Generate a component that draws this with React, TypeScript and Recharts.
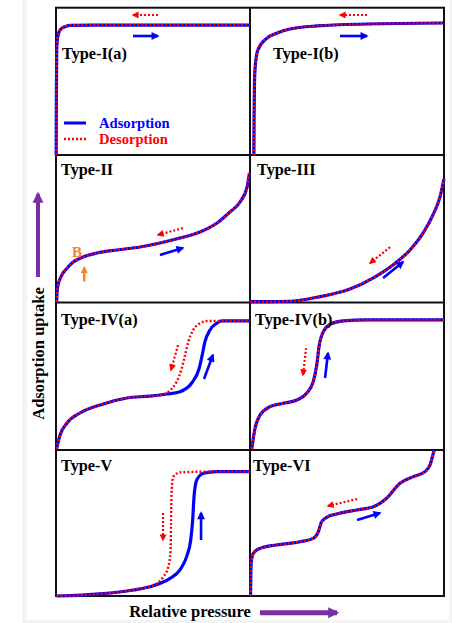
import { Line, LineChart, XAxis, YAxis } from "recharts";

type Pt = [number, number];

// x = relative pressure (0..1 of panel width), y = uptake (0..1 of panel height)
const typeIaCurve: Pt[] = [
  [0.006, 0], [0.007, 0.4], [0.009, 0.72], [0.014, 0.8], [0.026, 0.845],
  [0.051, 0.867], [0.077, 0.876], [0.2, 0.878], [1, 0.878],
];
const typeIbCurve: Pt[] = [
  [0.02, 0], [0.021, 0.25], [0.023, 0.48], [0.027, 0.6], [0.041, 0.71],
  [0.088, 0.79], [0.14, 0.824], [0.206, 0.851], [0.345, 0.872], [0.603, 0.885], [1, 0.892],
];
const typeIICurve: Pt[] = [
  [0.008, 0], [0.013, 0.1], [0.03, 0.17], [0.062, 0.23], [0.092, 0.27], [0.144, 0.306],
  [0.215, 0.333], [0.318, 0.354], [0.436, 0.374], [0.538, 0.401], [0.641, 0.435],
  [0.744, 0.476], [0.831, 0.537], [0.897, 0.612], [0.949, 0.68], [0.985, 0.782], [0.997, 0.878],
];
const typeIIICurve: Pt[] = [
  [0, 0.002], [0.1, 0.002], [0.206, 0.005], [0.344, 0.032], [0.515, 0.088], [0.634, 0.163],
  [0.737, 0.252], [0.825, 0.354], [0.892, 0.469], [0.943, 0.592], [0.979, 0.714], [1, 0.837],
];
const typeIVaAds: Pt[] = [
  [0.008, 0], [0.026, 0.095], [0.062, 0.177], [0.128, 0.245], [0.231, 0.3], [0.369, 0.347],
  [0.487, 0.36], [0.574, 0.374], [0.641, 0.39], [0.701, 0.449], [0.74, 0.551], [0.755, 0.639],
  [0.769, 0.73], [0.795, 0.81], [0.829, 0.855], [0.855, 0.871], [1, 0.871],
];
const typeIVaDes: Pt[] = [
  [0.008, 0], [0.026, 0.095], [0.062, 0.177], [0.128, 0.245], [0.231, 0.3], [0.369, 0.347],
  [0.487, 0.36], [0.56, 0.373], [0.595, 0.405], [0.624, 0.458], [0.65, 0.549], [0.667, 0.639],
  [0.684, 0.73], [0.709, 0.81], [0.744, 0.855], [0.785, 0.871], [1, 0.871],
];
const typeIVbCurve: Pt[] = [
  [0.009, 0], [0.026, 0.141], [0.052, 0.231], [0.103, 0.288], [0.172, 0.311], [0.241, 0.333],
  [0.292, 0.379], [0.326, 0.458], [0.344, 0.571], [0.357, 0.707], [0.378, 0.798],
  [0.412, 0.848], [0.481, 0.871], [0.601, 0.878], [1, 0.878],
];
const typeVAds: Pt[] = [
  [0.009, 0], [0.231, 0.014], [0.402, 0.041], [0.504, 0.07], [0.59, 0.12], [0.641, 0.177],
  [0.675, 0.268], [0.696, 0.381], [0.706, 0.517], [0.713, 0.676], [0.727, 0.789],
  [0.761, 0.835], [0.829, 0.846], [1, 0.846],
];
const typeVDes: Pt[] = [
  [0.009, 0], [0.231, 0.014], [0.402, 0.041], [0.47, 0.059], [0.522, 0.086], [0.556, 0.131],
  [0.581, 0.199], [0.593, 0.313], [0.595, 0.497], [0.598, 0.721], [0.607, 0.812],
  [0.641, 0.841], [0.8, 0.846], [1, 0.846],
];
const typeVICurve: Pt[] = [
  [0.003, 0], [0.004, 0.12], [0.006, 0.222], [0.017, 0.29], [0.052, 0.324], [0.137, 0.347],
  [0.258, 0.369], [0.326, 0.392], [0.352, 0.437], [0.369, 0.505], [0.395, 0.535],
  [0.447, 0.558], [0.55, 0.585], [0.636, 0.607], [0.704, 0.665], [0.773, 0.767],
  [0.842, 0.812], [0.902, 0.846], [0.928, 0.891], [0.945, 0.971], [0.95, 0.993],
];

// direction arrows: [tail, head]
const arrowsIa = { ads: [[0.4, 0.804], [0.528, 0.804]] as Pt[], des: [[0.528, 0.946], [0.4, 0.946]] as Pt[] };
const arrowsIb = { ads: [[0.464, 0.804], [0.603, 0.804]] as Pt[], des: [[0.603, 0.946], [0.464, 0.946]] as Pt[] };
const arrowsII = { ads: [[0.538, 0.32], [0.656, 0.367]] as Pt[], des: [[0.656, 0.503], [0.528, 0.456]] as Pt[] };
const arrowsIII = { ads: [[0.686, 0.163], [0.789, 0.272]] as Pt[], des: [[0.722, 0.374], [0.619, 0.265]] as Pt[] };
const arrowsIVa = { ads: [[0.764, 0.476], [0.81, 0.639]] as Pt[], des: [[0.631, 0.707], [0.595, 0.537]] as Pt[] };
const arrowsIVb = { ads: [[0.387, 0.483], [0.402, 0.653]] as Pt[], des: [[0.289, 0.687], [0.273, 0.503]] as Pt[] };
const arrowsV = { ads: [[0.749, 0.381], [0.749, 0.565]] as Pt[], des: [[0.554, 0.565], [0.554, 0.381]] as Pt[] };
const arrowsVI = { ads: [[0.552, 0.517], [0.67, 0.565]] as Pt[], des: [[0.552, 0.66], [0.402, 0.612]] as Pt[] };
const pointBArrow: Pt[] = [[0.15, 0.14], [0.15, 0.235]];

const BLUE = "#0000ff";
const RED = "#ff0000";
const ORANGE = "#ff7f27";
const PURPLE = "#7b2fa3";
const FONT = '"Liberation Serif", "Times New Roman", serif';

const COL_X = [55, 250];
const COL_W = [195, 194];
const ROW_Y = [7, 155, 302, 449];
const ROW_H = [148, 147, 147, 147];
const PAD = 6;

const panels = [
  { title: "Type-I(a)", col: 0, row: 0, ads: typeIaCurve, des: typeIaCurve, arrows: arrowsIa },
  { title: "Type-I(b)", col: 1, row: 0, ads: typeIbCurve, des: typeIbCurve, arrows: arrowsIb },
  { title: "Type-II", col: 0, row: 1, ads: typeIICurve, des: typeIICurve, arrows: arrowsII },
  { title: "Type-III", col: 1, row: 1, ads: typeIIICurve, des: typeIIICurve, arrows: arrowsIII },
  { title: "Type-IV(a)", col: 0, row: 2, ads: typeIVaAds, des: typeIVaDes, arrows: arrowsIVa },
  { title: "Type-IV(b)", col: 1, row: 2, ads: typeIVbCurve, des: typeIVbCurve, arrows: arrowsIVb },
  { title: "Type-V", col: 0, row: 3, ads: typeVAds, des: typeVDes, arrows: arrowsV },
  { title: "Type-VI", col: 1, row: 3, ads: typeVICurve, des: typeVICurve, arrows: arrowsVI },
];
const TITLE_X = [62, 273, 61, 257, 61, 255, 61, 253];
const TITLE_Y = [59, 175, 325, 471];

const rows = (pts: Pt[]) => pts.map(([p, v]) => ({ p, v }));

function Panel({ col, row, ads, des, arrows, extra }: any) {
  const w = COL_W[col];
  const h = ROW_H[row];
  return (
    <div style={{ position: "absolute", left: COL_X[col] - PAD, top: ROW_Y[row] - PAD }}>
      <LineChart width={w + 2 * PAD} height={h + 2 * PAD} margin={{ top: PAD, right: PAD, bottom: PAD, left: PAD }}>
        <XAxis type="number" dataKey="p" domain={[0, 1]} hide />
        <YAxis type="number" domain={[0, 1]} hide />
        <Line data={rows(ads)} dataKey="v" type="monotone" stroke={BLUE} strokeWidth={3.2} dot={false} isAnimationActive={false} />
        <Line data={rows(des)} dataKey="v" type="monotone" stroke={RED} strokeWidth={2.4} strokeDasharray="2 2" dot={false} isAnimationActive={false} />
        <Line data={rows(arrows.ads)} dataKey="v" type="linear" stroke={BLUE} strokeWidth={2.6} dot={false} markerEnd="url(#head-blue)" isAnimationActive={false} />
        <Line data={rows(arrows.des)} dataKey="v" type="linear" stroke={RED} strokeWidth={2.2} strokeDasharray="2 2" dot={false} markerEnd="url(#head-red)" isAnimationActive={false} />
        {extra ? (
          <Line data={rows(extra)} dataKey="v" type="linear" stroke={ORANGE} strokeWidth={2.4} dot={false} markerEnd="url(#head-orange)" isAnimationActive={false} />
        ) : null}
      </LineChart>
    </div>
  );
}

export default function App() {
  return (
    <div style={{ position: "absolute", left: 0, top: 0, width: 452, height: 623, background: "#fff", overflow: "hidden" }}>
      <div style={{ position: "absolute", left: 22, top: 0, width: 5, height: 623, background: "#f4f4f4" }} />
      <div style={{ position: "absolute", left: 449, top: 0, width: 3, height: 623, background: "#f4f4f4" }} />
      <div style={{ position: "absolute", left: 22, top: 620, width: 430, height: 3, background: "#f4f4f4" }} />
      <svg width={0} height={0} style={{ position: "absolute" }}>
        <defs>
          <marker id="head-blue" viewBox="0 0 10 10" refX="8" refY="5" markerWidth="9" markerHeight="8" markerUnits="userSpaceOnUse" orient="auto">
            <path d="M0,0 L10,5 L0,10 z" fill={BLUE} />
          </marker>
          <marker id="head-red" viewBox="0 0 10 10" refX="8" refY="5" markerWidth="8" markerHeight="7" markerUnits="userSpaceOnUse" orient="auto">
            <path d="M0,0 L10,5 L0,10 z" fill={RED} />
          </marker>
          <marker id="head-orange" viewBox="0 0 10 10" refX="8" refY="5" markerWidth="8" markerHeight="7" markerUnits="userSpaceOnUse" orient="auto">
            <path d="M0,0 L10,5 L0,10 z" fill={ORANGE} />
          </marker>
          <marker id="head-purple" viewBox="0 0 10 10" refX="8" refY="5" markerWidth="11" markerHeight="12" markerUnits="userSpaceOnUse" orient="auto">
            <path d="M0,0 L10,5 L0,10 z" fill={PURPLE} />
          </marker>
        </defs>
      </svg>
      {/* panel frame */}
      <svg width={452} height={623} style={{ position: "absolute", left: 0, top: 0 }}>
        <g stroke="#111" strokeWidth={2} fill="none">
          <rect x={56} y={7.7} width={388} height={588.3} />
          <line x1={250} y1={7.7} x2={250} y2={596} />
          <line x1={56} y1={155} x2={444} y2={155} />
          <line x1={56} y1={302.5} x2={444} y2={302.5} />
          <line x1={56} y1={450} x2={444} y2={450} />
        </g>
      </svg>
      {panels.map((pn, i) => (
        <Panel key={pn.title} {...pn} extra={i === 2 ? pointBArrow : null} />
      ))}
      <svg width={452} height={623} style={{ position: "absolute", left: 0, top: 0, pointerEvents: "none" }}>
        <g fontFamily={FONT} fontWeight="bold">
          {panels.map((pn, i) => (
            <text key={pn.title} x={TITLE_X[i]} y={TITLE_Y[pn.row]} fontSize={16.3} fill="#000">
              {pn.title}
            </text>
          ))}
          <text x={77} y={257} fontSize={15} fill={ORANGE} textAnchor="middle">B</text>
          <line x1={64} y1={123} x2={86} y2={123} stroke={BLUE} strokeWidth={3} />
          <line x1={64} y1={139} x2={86} y2={139} stroke={RED} strokeWidth={2.4} strokeDasharray="2 2" />
          <text x={99} y={127.5} fontSize={14.6} fill={BLUE}>Adsorption</text>
          <text x={99} y={144} fontSize={14.6} fill={RED}>Desorption</text>
          <text x={0} y={0} fontSize={16.5} fill="#000" textAnchor="middle" transform="translate(43.5 353.5) rotate(-90)">
            Adsorption uptake
          </text>
          <text x={190} y={617} fontSize={16.5} fill="#000" textAnchor="middle">Relative pressure</text>
        </g>
        <line x1={38} y1={277} x2={38} y2={194} stroke={PURPLE} strokeWidth={4} markerEnd="url(#head-purple)" />
        <line x1={260} y1={612.7} x2={337} y2={612.7} stroke={PURPLE} strokeWidth={5} markerEnd="url(#head-purple)" />
      </svg>
    </div>
  );
}
